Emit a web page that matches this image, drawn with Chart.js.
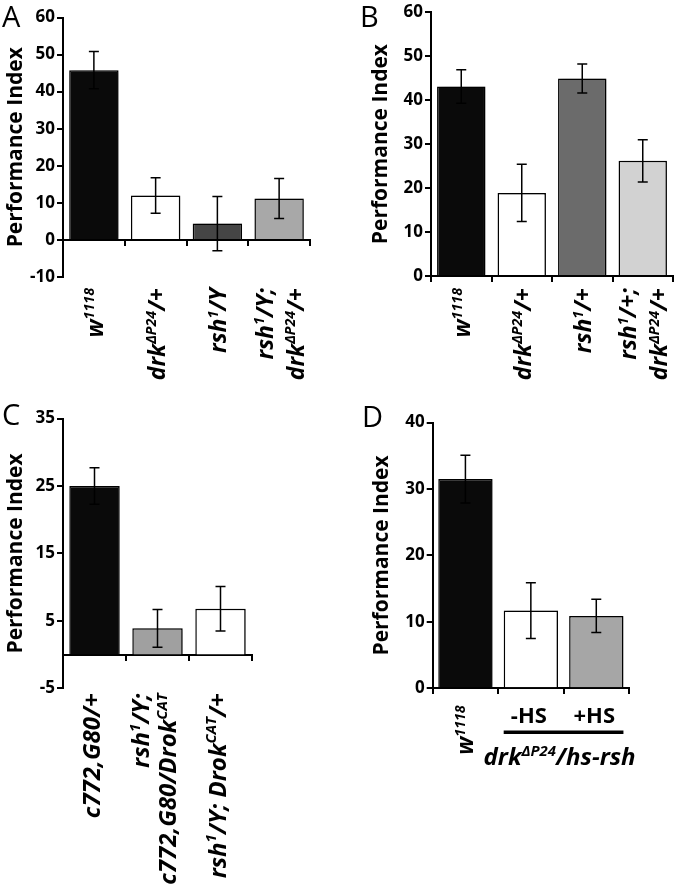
<!DOCTYPE html>
<html>
<head>
<meta charset="utf-8">
<script src="https://cdn.jsdelivr.net/npm/chart.js@4.4.1/dist/chart.umd.min.js"></script>
<style>
  body { margin: 0; background: #fff; width: 677px; height: 890px; position: relative; overflow: hidden; }
  canvas { position: absolute; }
  .letter { position: absolute; font-family: "Open Sans", sans-serif; font-size: 29px; line-height: 1; color: #000; }
</style>
</head>
<body>
<canvas id="chartA" width="338" height="400" style="left:0;top:0"></canvas>
<canvas id="chartB" width="339" height="400" style="left:338px;top:0"></canvas>
<canvas id="chartC" width="338" height="490" style="left:0;top:400px"></canvas>
<canvas id="chartD" width="339" height="490" style="left:338px;top:400px"></canvas>
<div class="letter" style="left:2px;top:1px">A</div>
<div class="letter" style="left:360px;top:1px">B</div>
<div class="letter" style="left:2px;top:399px">C</div>
<div class="letter" style="left:362px;top:401px">D</div>
<script>
const FONT = '"Open Sans", "DejaVu Sans", sans-serif';

// Panel A
const catsA = [['w^{1118}'], ['drk^{ΔP24}/+'], ['rsh^{1}/Y'], ['rsh^{1}/Y;', 'drk^{ΔP24}/+']];
const valuesA = [45.8, 12.0, 4.4, 11.2];
const errorsA = [5.0, 4.8, 7.3, 5.4];
const ticksA = [-10, 0, 10, 20, 30, 40, 50, 60];
const fillA = ['#0a0a0a', '#ffffff', '#454545', '#a8a8a8'];

// Panel B
const catsB = [['w^{1118}'], ['drk^{ΔP24}/+'], ['rsh^{1}/+'], ['rsh^{1}/+;', 'drk^{ΔP24}/+']];
const valuesB = [43.1, 18.9, 44.9, 26.2];
const errorsB = [3.8, 6.5, 3.3, 4.8];
const ticksB = [0, 10, 20, 30, 40, 50, 60];
const fillB = ['#0a0a0a', '#ffffff', '#6b6b6b', '#d2d2d2'];

// Panel C
const catsC = [['c772,G80/+'], ['rsh^{1}/Y;', 'c772,G80/Drok^{CAT}'], ['rsh^{1}/Y; Drok^{CAT}/+']];
const valuesC = [25.0, 3.9, 6.8];
const errorsC = [2.7, 2.8, 3.3];
const ticksC = [-5, 5, 15, 25, 35];
const fillC = ['#0a0a0a', '#a0a0a0', '#ffffff'];

// Panel D
const catsD = ['w^{1118}', '-HS', '+HS'];
const uprightD = [false, true, true];
const valuesD = [31.5, 11.7, 10.9];
const errorsD = [3.6, 4.2, 2.5];
const ticksD = [0, 10, 20, 30, 40];
const fillD = ['#0a0a0a', '#ffffff', '#a6a6a6'];
const groupD = 'drk^{ΔP24}/hs-rsh';
const groupMembersD = [1, 2];

// split "drk^{ΔP24}/+" into normal and superscript pieces
function parseRich(s) {
  const parts = [];
  const re = /\^\{([^}]*)\}/g;
  let last = 0, m;
  while ((m = re.exec(s))) {
    if (m.index > last) parts.push({ t: s.slice(last, m.index), sup: false });
    parts.push({ t: m[1], sup: true });
    last = re.lastIndex;
  }
  if (last < s.length) parts.push({ t: s.slice(last), sup: false });
  return parts;
}

function setFont(ctx, size, italic) {
  ctx.font = (italic ? 'italic ' : '') + 'bold ' + size + 'px ' + FONT;
}

function drawRich(ctx, text, x, y, size, italic, align) {
  const parts = parseRich(text);
  let w = 0;
  parts.forEach(p => { setFont(ctx, p.sup ? size * 0.62 : size, italic); p.w = ctx.measureText(p.t).width; w += p.w; });
  let x0 = align === 'right' ? x - w : align === 'center' ? x - w / 2 : x;
  ctx.textAlign = 'left';
  ctx.textBaseline = 'alphabetic';
  parts.forEach(p => {
    setFont(ctx, p.sup ? size * 0.62 : size, italic);
    ctx.fillText(p.t, x0, y - (p.sup ? size * 0.38 : 0));
    x0 += p.w;
  });
}

// soft grey shadow to the right of the bars, like the original spreadsheet chart
const barShadow = {
  id: 'barShadow',
  beforeDatasetsDraw(chart) {
    const ctx = chart.ctx;
    ctx.save();
    ctx.shadowColor = 'rgba(0,0,0,0.28)';
    ctx.shadowOffsetX = 3;
    ctx.shadowOffsetY = 0;
    ctx.shadowBlur = 3;
  },
  afterDatasetsDraw(chart) {
    chart.ctx.restore();
  }
};

function errorBars(errors) {
  return {
    id: 'errorBars',
    afterDatasetsDraw(chart) {
      const ctx = chart.ctx, ys = chart.scales.y;
      const meta = chart.getDatasetMeta(0);
      const vals = chart.data.datasets[0].data;
      ctx.save();
      ctx.strokeStyle = '#000';
      ctx.lineWidth = 1.5;
      meta.data.forEach((bar, i) => {
        const top = ys.getPixelForValue(vals[i] + errors[i]);
        const bot = ys.getPixelForValue(vals[i] - errors[i]);
        ctx.beginPath();
        ctx.moveTo(bar.x, top); ctx.lineTo(bar.x, bot);
        ctx.moveTo(bar.x - 5, top); ctx.lineTo(bar.x + 5, top);
        ctx.moveTo(bar.x - 5, bot); ctx.lineTo(bar.x + 5, bot);
        ctx.stroke();
      });
      ctx.restore();
    }
  };
}

function catLabels(p) {
  return {
    id: 'catLabels',
    afterDraw(chart) {
      const ctx = chart.ctx, xs = chart.scales.x, area = chart.chartArea;
      const meta = chart.getDatasetMeta(0);
      ctx.save();
      ctx.fillStyle = '#000';
      p.cats.forEach((c, i) => {
        const cx = xs.getPixelForValue(i);
        if (p.upright && p.upright[i]) {
          drawRich(ctx, c, cx - 2, area.bottom + p.hsGap, p.labelSize - 1, false, 'center');
          return;
        }
        const lines = [].concat(c);
        lines.forEach((ln, k) => {
          ctx.save();
          ctx.translate(cx + p.baseOff + (k - (lines.length - 1) / 2) * p.lineGap, area.bottom + p.labelGap);
          ctx.rotate(-Math.PI / 2);
          drawRich(ctx, ln, 0, 0, p.labelSize, true, 'right');
          ctx.restore();
        });
      });
      if (p.group) {
        const a = meta.data[p.groupMembers[0]], b = meta.data[p.groupMembers[1]];
        const x1 = a.x - a.width / 2, x2 = b.x + b.width / 2;
        ctx.strokeStyle = '#000';
        ctx.lineWidth = 3.5;
        ctx.beginPath();
        ctx.moveTo(x1, area.bottom + 44); ctx.lineTo(x2, area.bottom + 44);
        ctx.stroke();
        drawRich(ctx, p.group, (a.x + b.x) / 2 - 4, area.bottom + 77, p.labelSize + 1, true, 'center');
      }
      ctx.restore();
    }
  };
}

function makeChart(id, p) {
  const labels = p.cats.map(c => [].concat(c).join(' ').replace(/\^\{([^}]*)\}/g, '$1'));
  return new Chart(document.getElementById(id), {
    type: 'bar',
    data: {
      labels: labels,
      datasets: [{
        data: p.values,
        backgroundColor: p.fill,
        borderColor: '#000',
        borderWidth: 1.5,
        borderSkipped: 'start',
        barPercentage: p.barPct,
        categoryPercentage: 1
      }]
    },
    options: {
      responsive: false,
      animation: false,
      layout: { padding: p.pad },
      plugins: { legend: { display: false }, tooltip: { enabled: false } },
      scales: {
        x: {
          position: { y: 0 },
          ticks: { display: false },
          grid: { display: true, drawOnChartArea: false, offset: true, color: '#000', lineWidth: 2, tickLength: 5 },
          border: { display: true, color: '#000', width: 2 }
        },
        y: {
          min: p.ticks[0],
          max: p.ticks[p.ticks.length - 1],
          afterBuildTicks: s => { s.ticks = p.ticks.map(v => ({ value: v })); },
          afterFit: s => { s.width = 63; },
          ticks: { color: '#000', font: { family: FONT, weight: 'bold', size: 17 }, padding: 2 },
          grid: { drawOnChartArea: false, color: '#000', lineWidth: 2, tickLength: 6 },
          border: { color: '#000', width: 2 },
          title: {
            display: true, text: 'Performance Index', color: '#000',
            font: { family: FONT, weight: 'bold', size: 21 },
            padding: { top: p.titlePad, bottom: 0 }
          }
        }
      }
    },
    plugins: [barShadow, errorBars(p.errors), catLabels(p)]
  });
}

makeChart('chartA', {
  cats: catsA, values: valuesA, errors: errorsA, ticks: ticksA, fill: fillA,
  pad: { left: 0, right: 28, top: 17.5, bottom: 123 }, titlePad: 3,
  labelGap: 11, lineGap: 31, baseOff: 9, labelSize: 23, barPct: 0.8
});
makeChart('chartB', {
  cats: catsB, values: valuesB, errors: errorsB, ticks: ticksB, fill: fillB,
  pad: { left: 30, right: 4, top: 9.5, bottom: 124 }, titlePad: 0,
  labelGap: 12, lineGap: 31, baseOff: 9, labelSize: 23, barPct: 0.8
});
makeChart('chartC', {
  cats: catsC, values: valuesC, errors: errorsC, ticks: ticksC, fill: fillC,
  pad: { left: 0, right: 86, top: 18.6, bottom: 201.7 }, titlePad: 3,
  labelGap: 5, lineGap: 27, baseOff: 5, labelSize: 24, barPct: 0.8
});
makeChart('chartD', {
  cats: catsD, upright: uprightD, values: valuesD, errors: errorsD, ticks: ticksD, fill: fillD,
  group: groupD, groupMembers: groupMembersD,
  pad: { left: 31.7, right: 48, top: 22.6, bottom: 201.7 }, titlePad: 0,
  labelGap: 17, lineGap: 31, baseOff: 8, hsGap: 35, labelSize: 23, barPct: 0.83
});
</script>
</body>
</html>
